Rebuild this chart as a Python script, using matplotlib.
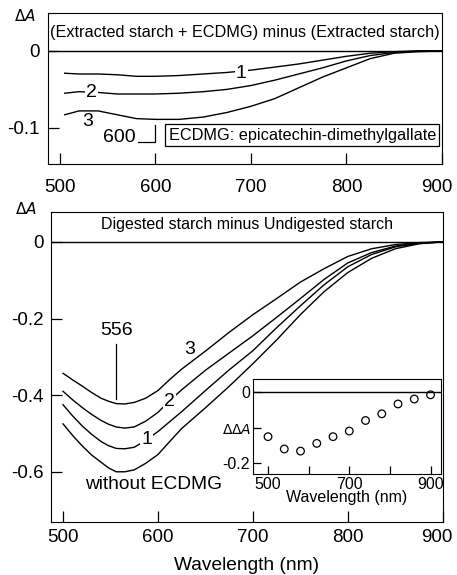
import numpy as np
import matplotlib
matplotlib.use("Agg")
import matplotlib.pyplot as plt
import matplotlib.transforms as mtransforms

plt.rcParams['font.family'] = ['Liberation Sans', 'DejaVu Sans']

# upper panel: (extracted starch + ECDMG) minus (extracted starch)
wl_top = [505, 520, 540, 560, 580, 600, 625, 650, 675, 700, 725, 750, 775, 800, 825, 850, 875, 900]
top_1 = [-0.029, -0.030, -0.030, -0.031, -0.033, -0.033, -0.032, -0.030, -0.028, -0.025,
         -0.021, -0.017, -0.012, -0.007, -0.003, -0.001, 0.0, 0.0]
top_2 = [-0.055, -0.053, -0.054, -0.056, -0.056, -0.056, -0.055, -0.053, -0.050, -0.045,
         -0.038, -0.030, -0.022, -0.013, -0.006, -0.002, 0.0, 0.0]
top_3 = [-0.083, -0.078, -0.078, -0.083, -0.088, -0.089, -0.089, -0.086, -0.080, -0.072,
         -0.062, -0.048, -0.034, -0.022, -0.010, -0.003, -0.001, 0.0]

# lower panel: digested minus undigested starch
wl_low = [500, 510, 520, 530, 540, 548, 556, 565, 575, 587, 600, 612, 625, 650, 675, 700,
          725, 750, 775, 800, 825, 850, 875, 900]
low_3 = [-0.343, -0.360, -0.376, -0.393, -0.408, -0.416, -0.422, -0.423, -0.419, -0.408,
         -0.388, -0.360, -0.332, -0.285, -0.236, -0.190, -0.148, -0.105, -0.070, -0.038,
         -0.018, -0.007, -0.002, 0.0]
low_2 = [-0.390, -0.412, -0.432, -0.450, -0.466, -0.476, -0.483, -0.486, -0.483, -0.468,
         -0.445, -0.415, -0.386, -0.335, -0.290, -0.245, -0.197, -0.148, -0.098, -0.055,
         -0.028, -0.011, -0.003, 0.0]
low_1 = [-0.425, -0.454, -0.480, -0.502, -0.521, -0.532, -0.539, -0.540, -0.536, -0.518,
         -0.495, -0.470, -0.443, -0.388, -0.334, -0.284, -0.224, -0.167, -0.112, -0.065,
         -0.033, -0.013, -0.004, 0.0]
low_none = [-0.475, -0.505, -0.532, -0.556, -0.575, -0.590, -0.600, -0.600, -0.595, -0.578,
            -0.555, -0.522, -0.487, -0.433, -0.377, -0.318, -0.256, -0.190, -0.130, -0.080,
            -0.043, -0.018, -0.005, 0.0]

# inset: delta delta A
wl_inset = [500, 540, 580, 620, 660, 700, 740, 780, 820, 860, 900]
dda = [-0.126, -0.161, -0.167, -0.145, -0.126, -0.110, -0.080, -0.061, -0.033, -0.019, -0.007]

fig = plt.figure(figsize=(4.57, 5.75), dpi=100)
tick_kw = dict(direction='in', length=8, width=0.9, labelsize=13.5)
bbox_w = dict(fc='white', ec='none', pad=0.5)


def nudge_last_xlabel(ax, dx_pts=-4):
    # keep the right-most tick label inside the figure
    lab = ax.get_xticklabels()[-1]
    off = mtransforms.ScaledTranslation(dx_pts / 72, 0, fig.dpi_scale_trans)
    lab.set_transform(lab.get_transform() + off)


# ---- upper panel
ax1 = fig.add_axes([0.105, 0.7148, 0.862, 0.2622])
for y in (top_1, top_2, top_3):
    ax1.plot(wl_top, y, color='black', lw=1.0)
ax1.axhline(0, color='black', lw=1.0)
ax1.set_xlim(487.5, 899)
ax1.set_ylim(-0.147, 0.049)
ax1.set_xticks([500, 600, 700, 800, 900])
ax1.set_yticks([0, -0.1])
ax1.set_yticklabels(['0', '-0.1'])
ax1.tick_params(**tick_kw)
ax1.tick_params(axis='x', pad=11)
ax1.tick_params(axis='y', pad=6)
nudge_last_xlabel(ax1)
ax1.text(0.5, 0.87, '(Extracted starch + ECDMG) minus (Extracted starch)',
         transform=ax1.transAxes, ha='center', va='center', fontsize=11.7)
ax1.text(690, -0.029, '1', ha='center', va='center', fontsize=14, bbox=bbox_w, zorder=5)
ax1.text(533, -0.054, '2', ha='center', va='center', fontsize=14, bbox=bbox_w, zorder=5)
ax1.text(529, -0.092, '3', ha='center', va='center', fontsize=14)
ax1.text(562, -0.113, '600', ha='center', va='center', fontsize=14)
ax1.plot([582, 600, 600], [-0.118, -0.118, -0.096], color='black', lw=0.9)
ax1.text(0.985, 0.19, 'ECDMG: epicatechin-dimethylgallate', transform=ax1.transAxes,
         ha='right', va='center', fontsize=11.7,
         bbox=dict(fc='white', ec='black', lw=0.9, pad=2.5))
fig.text(0.03, 0.972, r'$\Delta A$', fontsize=11, ha='left', va='center')

# ---- lower panel
ax2 = fig.add_axes([0.111, 0.0922, 0.8577, 0.5391])
for y in (low_3, low_2, low_1, low_none):
    ax2.plot(wl_low, y, color='black', lw=1.0)
ax2.axhline(0, color='black', lw=1.0)
ax2.set_xlim(487, 899.7)
ax2.set_ylim(-0.731, 0.078)
ax2.set_xticks([500, 600, 700, 800, 900])
ax2.set_yticks([0, -0.2, -0.4, -0.6])
ax2.set_yticklabels(['0', '-0.2', '-0.4', '-0.6'])
ax2.tick_params(**tick_kw)
ax2.tick_params(axis='x', pad=5)
ax2.tick_params(axis='y', pad=5)
nudge_last_xlabel(ax2)
ax2.set_xlabel('Wavelength (nm)', fontsize=13.8, labelpad=8)
ax2.text(0.5, 0.96, 'Digested starch minus Undigested starch',
         transform=ax2.transAxes, ha='center', va='center', fontsize=11.5)
ax2.text(556, -0.232, '556', ha='center', va='center', fontsize=14)
ax2.plot([556, 556], [-0.266, -0.411], color='black', lw=0.9)
ax2.text(633, -0.281, '3', ha='center', va='center', fontsize=14)
ax2.text(612, -0.417, '2', ha='center', va='center', fontsize=14, bbox=bbox_w, zorder=5)
ax2.text(588, -0.517, '1', ha='center', va='center', fontsize=14, bbox=bbox_w, zorder=5)
ax2.text(595, -0.634, 'without ECDMG', ha='center', va='center', fontsize=13.8)
fig.text(0.033, 0.636, r'$\Delta A$', fontsize=11, ha='left', va='center')

# ---- inset
ax3 = fig.add_axes([0.5536, 0.1757, 0.4107, 0.1652])
ax3.scatter(wl_inset, dda, s=30, facecolors='none', edgecolors='black', linewidths=0.9, zorder=3)
ax3.axhline(0, color='black', lw=1.0)
ax3.set_xlim(463, 925)
ax3.set_ylim(-0.232, 0.038)
ax3.set_xticks([500, 600, 700, 800, 900])
ax3.set_xticklabels(['500', '', '700', '', '900'])
ax3.set_yticks([0, -0.1, -0.2])
ax3.set_yticklabels(['0', '', '-0.2'])
ax3.tick_params(direction='in', length=6, width=0.9, labelsize=11.5, pad=2)
ax3.set_xlabel('Wavelength (nm)', fontsize=11.5, labelpad=-1)
ax3.text(-0.01, 0.46, r'$\Delta\Delta A$', transform=ax3.transAxes,
         ha='right', va='center', fontsize=10)

fig.savefig('out.png', dpi=100)
